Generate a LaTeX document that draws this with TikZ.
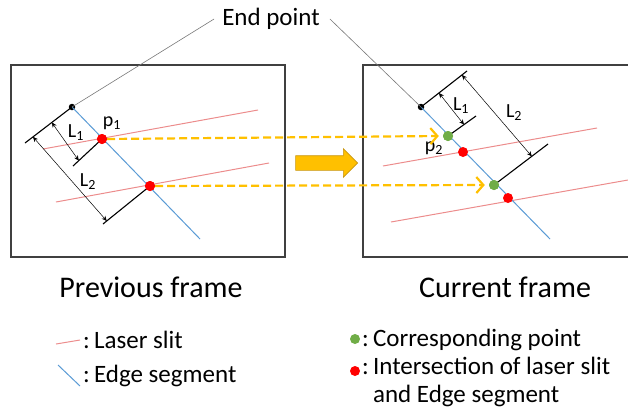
\documentclass[tikz,border=0pt]{standalone}
\usepackage{fontspec}
\setmainfont{Carlito}
\usetikzlibrary{arrows.meta,shapes.arrows,calc}
\definecolor{slit}{RGB}{236,140,140}
\definecolor{edgeblue}{RGB}{91,155,213}
\definecolor{gold}{RGB}{255,192,0}
\definecolor{goldborder}{RGB}{200,150,20}
\definecolor{cgreen}{RGB}{112,173,71}
\definecolor{cred}{RGB}{255,0,0}
\definecolor{framegray}{RGB}{64,64,64}
\begin{document}
\begin{tikzpicture}[x=1pt,y=-1pt,
  frameline/.style={draw=framegray, line width=1.3pt},
  slitline/.style={draw=slit, line width=1pt},
  edgeline/.style={draw=edgeblue, line width=1pt},
  dot/.style={circle, inner sep=0pt, minimum size=#1},
  enddot/.style={dot=6.5pt, fill=black},
  reddot/.style={dot=10pt, fill=cred},
  greendot/.style={dot=10pt, fill=cgreen},
  extline/.style={black, line width=1.1pt},
  dimline/.style={black, line width=0.5pt, {Stealth[length=5pt,width=4.5pt]}-{Stealth[length=5pt,width=4.5pt]}},
  leader/.style={draw={rgb,255:red,120;green,120;blue,120}, line width=0.6pt},
  track/.style={draw=gold, line width=2.2pt, dash pattern=on 8pt off 4pt, -{Straight Barb[length=7pt,width=16pt,line width=2.2pt]}},
  lbl/.style={inner sep=0pt, font=\fontsize{20}{22}\selectfont},
  headtxt/.style={inner sep=0pt, font=\fontsize{30}{33}\selectfont},
  legtxt/.style={inner sep=0pt, font=\fontsize{25}{28}\selectfont, anchor=west, align=left}
]
\useasboundingbox (0,0) rectangle (628,418);

% frames
\draw[frameline] (11,65) rectangle (285,257);
\draw[frameline] (628,65) -- (363,65) -- (363,257) -- (628,257);

% ---------- previous frame ----------
\coordinate (As1a) at (43,149);  \coordinate (As1b) at (258,110);
\coordinate (As2a) at (56,202);  \coordinate (As2b) at (269,163);
\draw[slitline] (As1a) -- (As1b);
\draw[slitline] (As2a) -- (As2b);
\coordinate (Aend) at (200,239);
\node[enddot] (A0) at (72,107) {};
\node[reddot] (A1) at (102,139) {};
\node[reddot] (A2) at (150,186) {};
\draw[edgeline] (A0.center) -- (Aend);
\coordinate (Ae0) at (25,143);
\coordinate (Ae1) at (73,166);
\coordinate (Ae2) at (103,224);
\draw[extline] (A0.center) -- (Ae0);
\draw[extline] (A1.center) -- (Ae1);
\draw[extline] (A2.center) -- (Ae2);
\draw[dimline] ($(A0.center)!0.43!(Ae0)$) -- ($(A1.center)!0.8!(Ae1)$);
\draw[dimline] ($(A0.center)!0.83!(Ae0)$) -- ($(A2.center)!0.92!(Ae2)$);
\node[lbl] (AL1) at (76,133) {L\textsubscript{1}};
\node[lbl] (AL2) at (88,182) {L\textsubscript{2}};
\node[lbl] (Ap1) at (112,123) {p\textsubscript{1}};

% ---------- current frame ----------
\coordinate (Bs1a) at (383,166); \coordinate (Bs1b) at (597,128);
\coordinate (Bs2a) at (391,222); \coordinate (Bs2b) at (628,180);
\draw[slitline] (Bs1a) -- (Bs1b);
\draw[slitline] (Bs2a) -- (Bs2b);
\coordinate (Bend) at (550,239);
\node[enddot] (B0) at (421,107) {};
\draw[edgeline] (B0.center) -- (Bend);
\node[greendot] (B1) at (448,136) {};
\node[reddot] (R1) at (463,152) {};
\node[greendot] (B2) at (494,185) {};
\node[reddot] (R2) at (508,198) {};
\coordinate (Be0) at (467,71);
\coordinate (Be1) at (476,116);
\coordinate (Be2) at (548,144);
\draw[extline] (B0.center) -- (Be0);
\draw[extline] (B1.center) -- (Be1);
\draw[extline] (B2.center) -- (Be2);
\node[greendot] at (B1) {};
\node[greendot] at (B2) {};
\draw[dimline] ($(B0.center)!0.39!(Be0)$) -- ($(B1.center)!0.57!(Be1)$);
\draw[dimline] ($(B0.center)!0.89!(Be0)$) -- ($(B2.center)!0.70!(Be2)$);
\node[lbl] (BL1) at (461,106) {L\textsubscript{1}};
\node[lbl] (BL2) at (514,113) {L\textsubscript{2}};
\node[lbl] (Bp2) at (434,148) {p\textsubscript{2}};

% ---------- end point callout ----------
\node[inner sep=0pt, font=\fontsize{25}{28}\selectfont] (endpt) at (271,19) {End point};
\draw[leader] ([xshift=-8pt]endpt.west) -- (A0.center);
\draw[leader] ([xshift=10pt]endpt.east) -- (B0.center);

% ---------- tracking arrows ----------
\draw[track] (A1.east) -- ([xshift=-4pt]B1.west);
\draw[track] (A2.east) -- ([xshift=-4pt]B2.west);
\node[reddot] at (A1) {};
\node[reddot] at (A2) {};

% big arrow
\node[single arrow, fill=gold, draw=goldborder, line width=0.6pt,
      inner sep=7pt, minimum height=62pt, minimum width=28pt,
      single arrow head extend=7pt] (big) at (323,163) {};

% ---------- titles ----------
\node[headtxt] (prev) at (151,287) {Previous frame};
\node[headtxt] (curr) at (505,287) {Current frame};

% ---------- legend ----------
\coordinate (lg1a) at (56,344); \coordinate (lg1b) at (80,340);
\draw[slitline] (lg1a) -- (lg1b);
\node[legtxt] (leg1) at (83,340) {:\,Laser slit};
\coordinate (lg2a) at (58,365); \coordinate (lg2b) at (80,386);
\draw[edgeline] (lg2a) -- (lg2b);
\node[legtxt] (leg2) at (83,376) {:\,Edge segment};
\node[greendot] (lg3) at (355,339) {};
\node[legtxt] (leg3) at (362,340) {:\,Corresponding point};
\node[reddot] (lg4) at (355,371) {};
\node[legtxt, anchor=north west] (leg4) at (362,357) {:\,Intersection of laser slit\\\hphantom{:\,}and Edge segment};
\end{tikzpicture}
\end{document}
